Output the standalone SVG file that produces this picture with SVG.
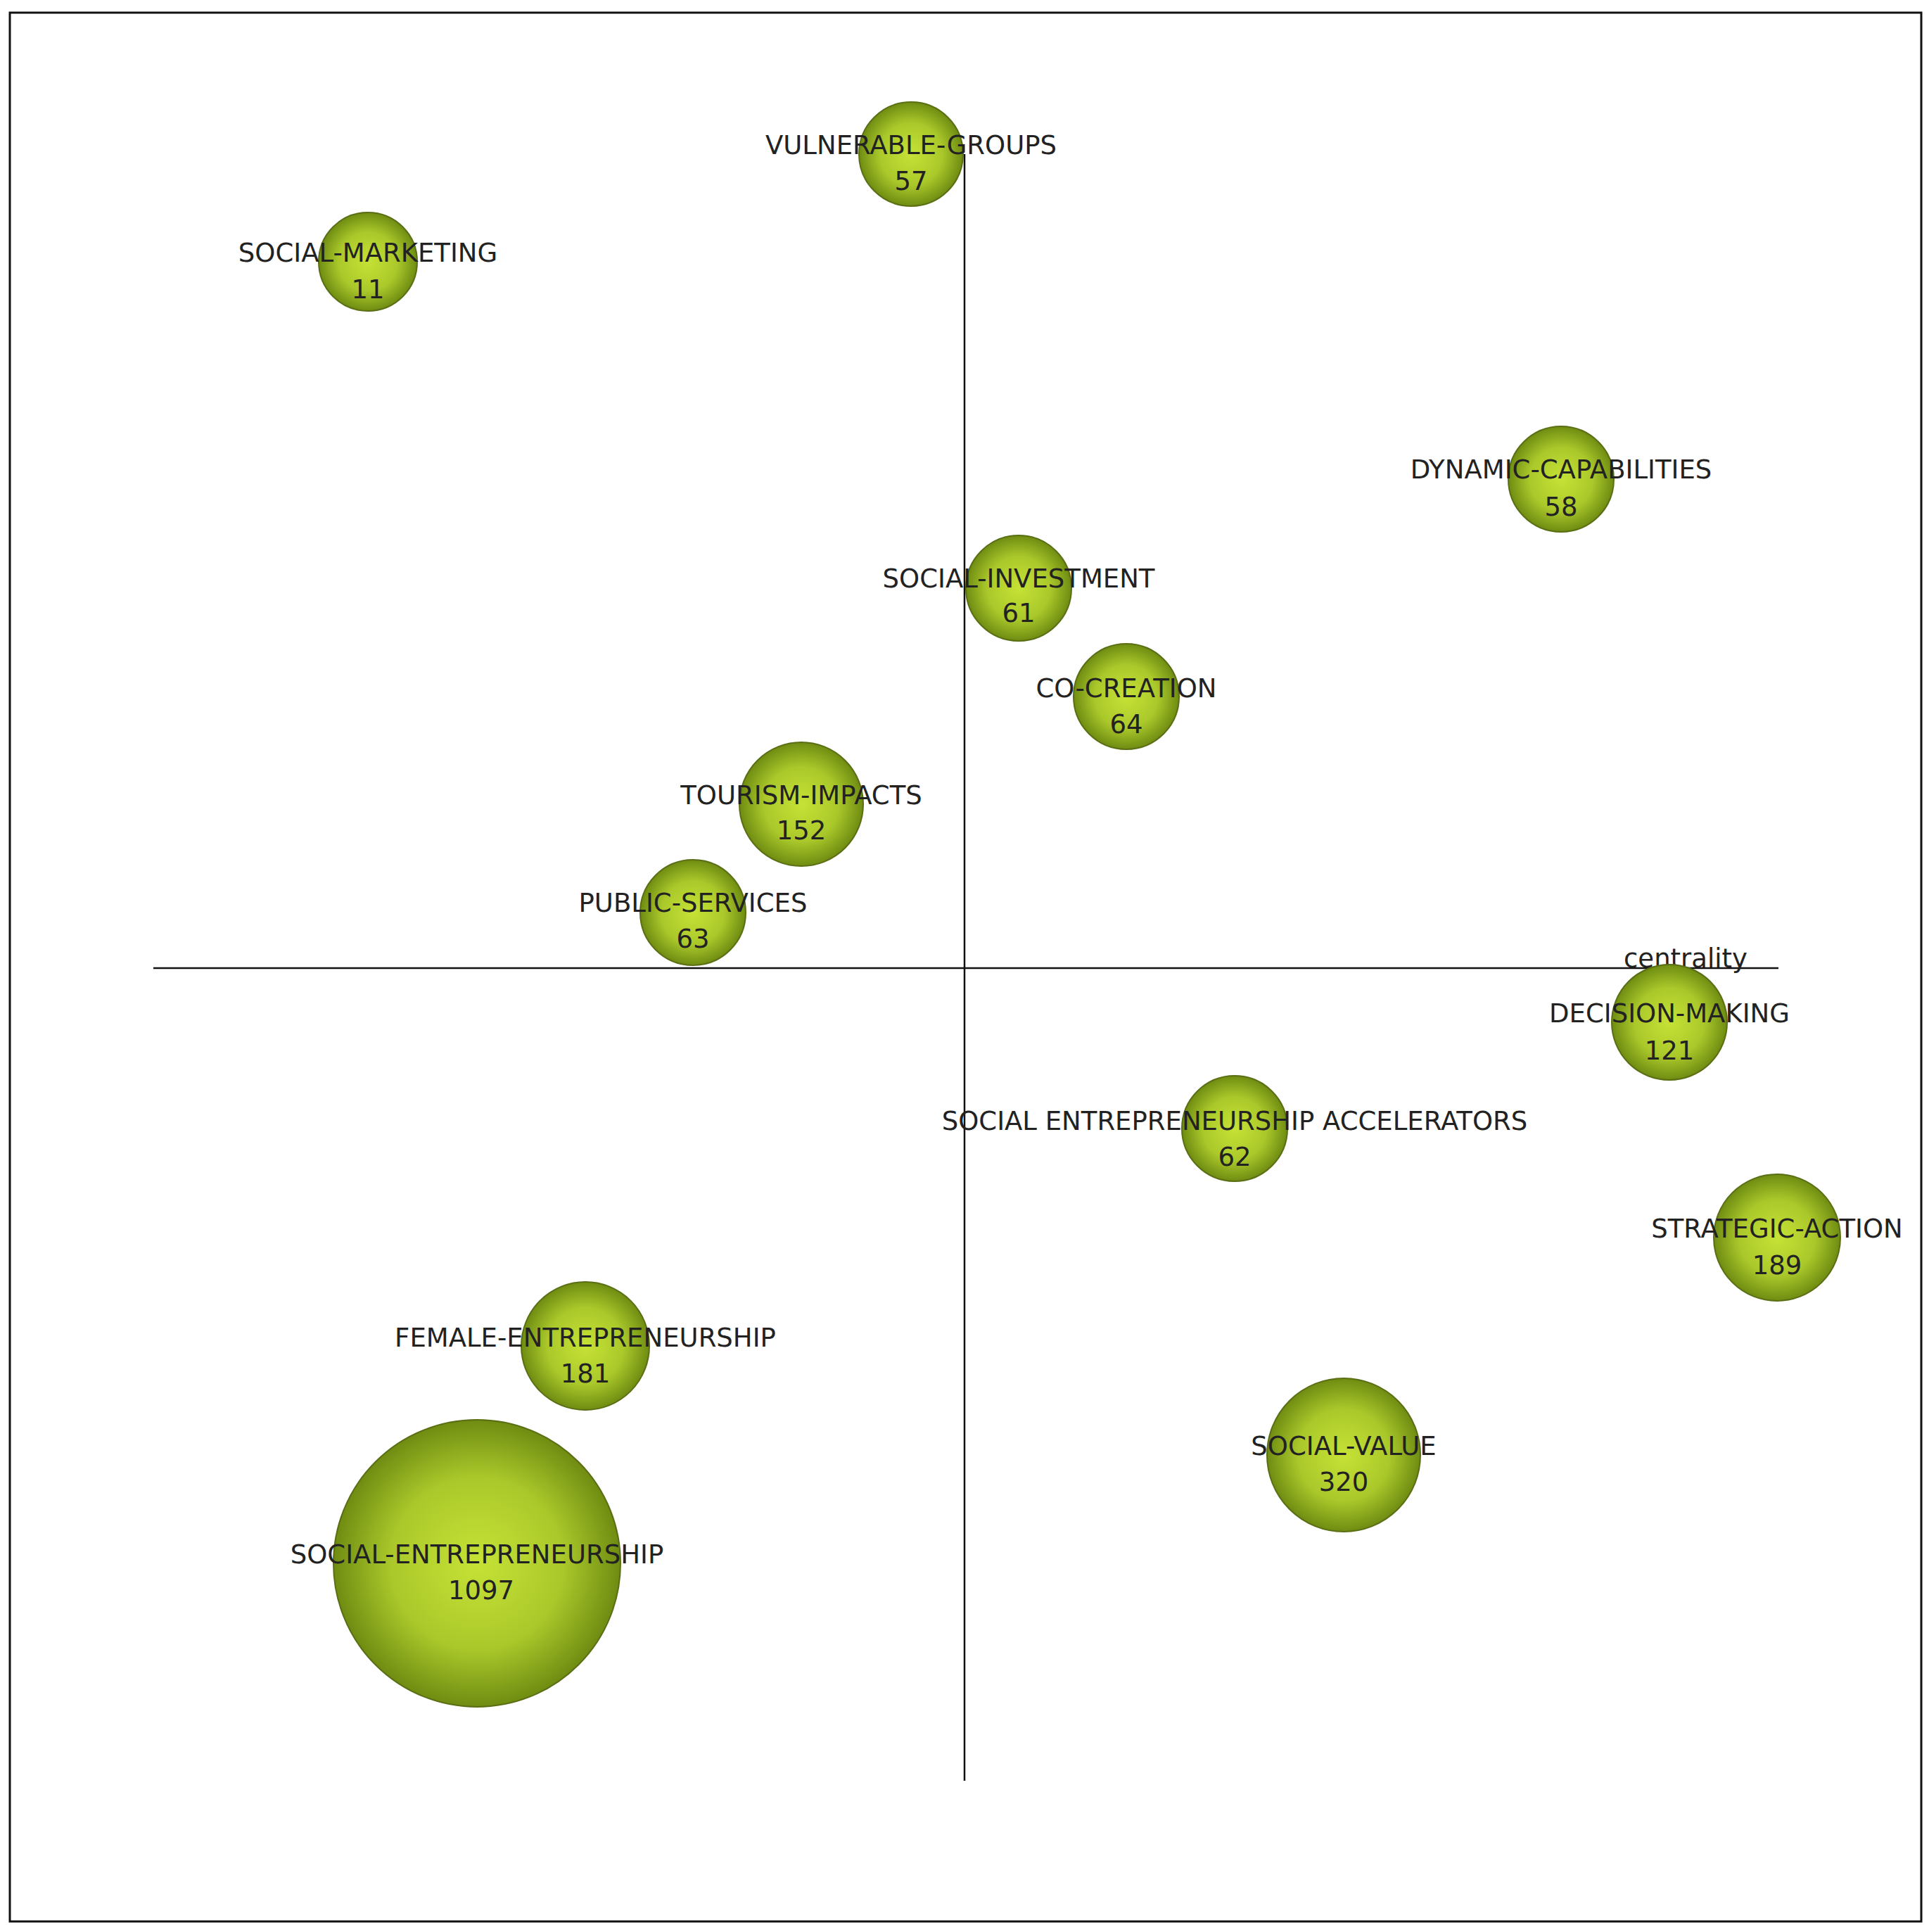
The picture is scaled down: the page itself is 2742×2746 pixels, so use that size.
<svg xmlns="http://www.w3.org/2000/svg" width="2742" height="2746" viewBox="0 0 2742 2746">
<defs>
<radialGradient id="g" cx="50%" cy="50%" r="50%">
<stop offset="0" stop-color="#c6e236"/>
<stop offset="0.6" stop-color="#aac82a"/>
<stop offset="1" stop-color="#6f8c12"/>
</radialGradient>
<clipPath id="c"><rect x="14" y="18" width="2717" height="2713"/></clipPath>
</defs>
<style>
circle{fill:url(#g);stroke:#5a6e14;stroke-width:2}
text{font-family:"DejaVu Sans",Verdana,sans-serif;font-size:37px;fill:#222;text-anchor:middle}
.ax{stroke:#111;stroke-width:2.5;fill:none}
</style>
<rect x="14" y="18" width="2717" height="2713" fill="#fff" stroke="#111" stroke-width="3"/>
<g clip-path="url(#c)">
<g id="axes">
<line class="ax" x1="218" y1="1376" x2="2528" y2="1376"/>
<line class="ax" x1="1371" y1="219" x2="1371" y2="2531"/>
<text x="2396" y="1375">centrality</text>
</g>
<g id="n1"><circle cx="1295" cy="219" r="74"/><text x="1295" y="219">VULNERABLE-GROUPS</text><text x="1295" y="270">57</text></g>
<g id="n2"><circle cx="523" cy="372" r="70"/><text x="523" y="372">SOCIAL-MARKETING</text><text x="523" y="424">11</text></g>
<g id="n3"><circle cx="2219" cy="681" r="75"/><text x="2219" y="680">DYNAMIC-CAPABILITIES</text><text x="2219" y="733">58</text></g>
<g id="n4"><circle cx="1448" cy="836" r="75"/><text x="1448" y="835">SOCIAL-INVESTMENT</text><text x="1448" y="884">61</text></g>
<g id="n5"><circle cx="1601" cy="990" r="75"/><text x="1601" y="991">CO-CREATION</text><text x="1601" y="1042">64</text></g>
<g id="n6"><circle cx="1139" cy="1143" r="88"/><text x="1139" y="1143">TOURISM-IMPACTS</text><text x="1139" y="1193">152</text></g>
<g id="n7"><circle cx="985" cy="1297" r="75"/><text x="985" y="1296">PUBLIC-SERVICES</text><text x="985" y="1347">63</text></g>
<g id="n8"><circle cx="2373" cy="1453" r="82"/><text x="2373" y="1453">DECISION-MAKING</text><text x="2373" y="1506">121</text></g>
<g id="n9"><circle cx="1755" cy="1604" r="75"/><text x="1755" y="1606">SOCIAL ENTREPRENEURSHIP ACCELERATORS</text><text x="1755" y="1657">62</text></g>
<g id="n10"><circle cx="2526" cy="1759" r="90"/><text x="2526" y="1759">STRATEGIC-ACTION</text><text x="2526" y="1811">189</text></g>
<g id="n11"><circle cx="832" cy="1913" r="91"/><text x="832" y="1914">FEMALE-ENTREPRENEURSHIP</text><text x="832" y="1965">181</text></g>
<g id="n12"><circle cx="1910" cy="2068" r="109"/><text x="1910" y="2068">SOCIAL-VALUE</text><text x="1910" y="2119">320</text></g>
<g id="n13"><circle cx="678" cy="2222" r="204"/><text x="678" y="2222">SOCIAL-ENTREPRENEURSHIP</text><text x="684" y="2273">1097</text></g>
</g>
</svg>
